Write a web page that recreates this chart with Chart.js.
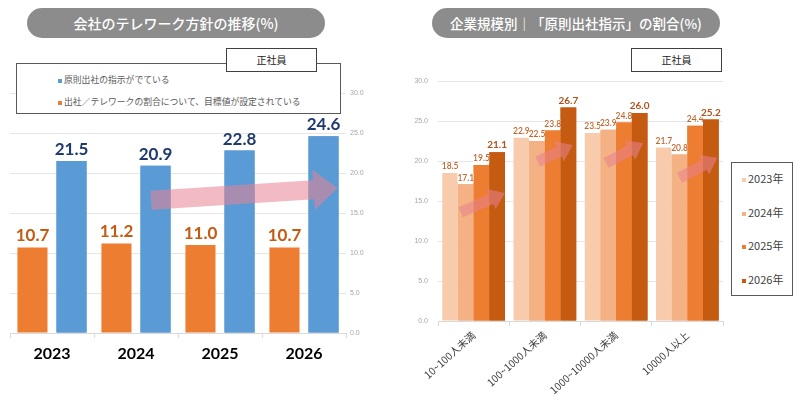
<!DOCTYPE html>
<html>
<head>
<meta charset="utf-8">
<script src="https://cdn.jsdelivr.net/npm/chart.js@4.4.1/dist/chart.umd.min.js"></script>
<style>
  body { margin: 0; width: 800px; height: 404px; position: relative; background: #fff; overflow: hidden;
         font-family: "Noto Sans CJK JP", "Noto Sans", sans-serif; }
  .pill { position: absolute; height: 30px; line-height: 30px; border-radius: 15px; background: #8c8c8c;
          color: #fff; text-align: center; font-size: 14px; font-weight: 500; }
  .tag { position: absolute; width: 89px; height: 22px; line-height: 22px; border: 1px solid #404040;
         background: #fff; text-align: center; font-size: 10px; color: #222; z-index: 3; }
  .box { position: absolute; border: 1px solid #595959; background: #fff; z-index: 2; color: #595959; }
  .item { position: absolute; white-space: nowrap; }
  .item i { display: inline-block; width: 4px; height: 4px; margin-right: 2px; vertical-align: middle; }
  .wrap { position: absolute; top: 0; width: 400px; height: 404px; }
</style>
</head>
<body>
<div class="pill" style="left:27px; top:8px; width:298px;">会社のテレワーク方針の推移(%)</div>
<div class="pill" style="left:432px; top:8px; width:288px; font-size:13.5px;">企業規模別｜「原則出社指示」の割合(%)</div>
<div class="tag" style="left:226px; top:48px;">正社員</div>
<div class="tag" style="left:631px; top:48px;">正社員</div>
<div class="box" id="legend1" style="left:16px; top:63px; width:323px; height:49px; font-size:8.8px;"></div>
<div class="box" id="legend2" style="left:731px; top:162px; width:60px; height:132px; font-size:11px; color:#404040;"></div>
<div class="wrap" style="left:0;"><canvas id="chart" width="400" height="404"></canvas></div>
<div class="wrap" style="left:400px;"><canvas id="chart2" width="400" height="404"></canvas></div>
<script>
// left chart
const years = ["2023", "2024", "2025", "2026"];
const targetSet = [10.7, 11.2, 11.0, 10.7];     // 出社／テレワークの割合について、目標値が設定されている
const officeOrder = [21.5, 20.9, 22.8, 24.6];   // 原則出社の指示がでている

// right chart
const sizes = ["10~100人未満", "100~1000人未満", "1000~10000人未満", "10000人以上"];
const y2023 = [18.5, 22.9, 23.5, 21.7];
const y2024 = [17.1, 22.5, 23.9, 20.8];
const y2025 = [19.5, 23.8, 24.8, 24.4];
const y2026 = [21.1, 26.7, 26.0, 25.2];

const yTicksMin = 0, yTicksMax = 30, yTicksStep = 5;

// pink trend arrows: [category index offset, value] from -> to
const arrows1 = [{ from: [1.18, 16.6], to: [3.4, 18.1], shaft: 19, head: 40, len: 24 }];
const arrows2 = [
  { from: [0 - 0.18, 13.6], to: [0 + 0.44, 16.0], shaft: 11, head: 22, len: 15 },
  { from: [1 - 0.10, 19.9], to: [1 + 0.39, 22.0], shaft: 11, head: 22, len: 15 },
  { from: [2 - 0.14, 19.75], to: [2 + 0.38, 22.25], shaft: 11, head: 22, len: 15 },
  { from: [3 - 0.11, 17.9], to: [3 + 0.42, 20.4], shaft: 11, head: 22, len: 15 }
];

const arrowPlugin = {
  id: "arrows",
  afterDraw(chart, args, opts) {
    const { ctx } = chart;
    const xs = chart.scales.x, ys = chart.scales.y;
    ctx.save();
    ctx.fillStyle = "rgba(232,130,145,0.55)";
    (opts.list || []).forEach(a => {
      const x0 = xs.getPixelForValue(a.from[0]), y0 = ys.getPixelForValue(a.from[1]);
      const x1 = xs.getPixelForValue(a.to[0]), y1 = ys.getPixelForValue(a.to[1]);
      const ang = Math.atan2(y1 - y0, x1 - x0);
      const L = Math.hypot(x1 - x0, y1 - y0);
      ctx.save();
      ctx.translate(x0, y0);
      ctx.rotate(ang);
      ctx.beginPath();
      ctx.moveTo(0, -a.shaft / 2);
      ctx.lineTo(L - a.len, -a.shaft / 2);
      ctx.lineTo(L - a.len, -a.head / 2);
      ctx.lineTo(L, 0);
      ctx.lineTo(L - a.len, a.head / 2);
      ctx.lineTo(L - a.len, a.shaft / 2);
      ctx.lineTo(0, a.shaft / 2);
      ctx.closePath();
      ctx.fill();
      ctx.restore();
    });
    ctx.restore();
  }
};

// value labels; each later series' bars are painted again over the earlier labels
const valueLabels = {
  id: "valueLabels",
  afterDatasetsDraw(chart) {
    const { ctx } = chart;
    chart.data.datasets.forEach((ds, di) => {
      const meta = chart.getDatasetMeta(di);
      if (di > 0) meta.data.forEach(el => el.draw(ctx));
      const st = ds.labelStyle;
      ctx.save();
      ctx.font = st.font;
      ctx.textAlign = "center";
      ctx.textBaseline = "bottom";
      meta.data.forEach((el, i) => {
        const txt = ds.data[i].toFixed(1);
        const y = el.y - st.gap;
        if (st.bg) {
          const w = ctx.measureText(txt).width;
          ctx.fillStyle = st.bg;
          ctx.fillRect(el.x - w / 2, y - st.h, w, st.h);
        }
        ctx.fillStyle = st.color;
        ctx.fillText(txt, el.x, y);
      });
      ctx.restore();
    });
  }
};

Chart.register(arrowPlugin, valueLabels);

const fmt = v => v.toFixed(1);

new Chart(document.getElementById("chart"), {
  type: "bar",
  data: {
    labels: years,
    datasets: [
      { label: "出社／テレワークの割合について、目標値が設定されている", data: targetSet,
        backgroundColor: "#ed7d31", labelStyle: { font: "bold 17px Lato, 'Noto Sans'", color: "#c55a11", gap: 3 } },
      { label: "原則出社の指示がでている", data: officeOrder,
        backgroundColor: "#5b9bd5", labelStyle: { font: "bold 17px Lato, 'Noto Sans'", color: "#1f3a6e", gap: 3 } }
    ]
  },
  options: {
    responsive: false,
    animation: false,
    categoryPercentage: 0.93,
    barPercentage: 0.77,
    layout: { padding: { left: 10, top: 93, right: 30, bottom: 36 } },
    plugins: { legend: { display: false }, tooltip: { enabled: false }, arrows: { list: arrows1 } },
    scales: {
      x: {
        afterFit: s => { s.height = 35; },
        grid: { drawOnChartArea: false, tickLength: 5, color: "#d9d9d9" },
        border: { color: "#d9d9d9" },
        ticks: { color: "#000", padding: 6, font: { family: "Lato, 'Noto Sans'", size: 16, weight: "bold" } }
      },
      y: {
        position: "right",
        min: yTicksMin, max: yTicksMax,
        afterFit: s => { s.width = 24; },
        grid: { color: "#e6e6e6", drawTicks: false },
        border: { display: false },
        ticks: { stepSize: yTicksStep, padding: 4, color: "#a6a6a6", font: { size: 7 }, callback: fmt }
      }
    }
  }
});

const shades = ["#f8cbad", "#f4b183", "#ed7d31", "#c55a11"];
const series2 = [y2023, y2024, y2025, y2026];
const seriesNames = ["2023年", "2024年", "2025年", "2026年"];

new Chart(document.getElementById("chart2"), {
  type: "bar",
  data: {
    labels: sizes,
    datasets: series2.map((d, i) => ({
      label: seriesNames[i], data: d, backgroundColor: shades[i],
      labelStyle: i === 3
        ? { font: "bold 10px Lato, 'Noto Sans'", color: "#b0521c", gap: 2, bg: "#fff", h: 11 }
        : { font: "600 8.5px Lato, 'Noto Sans'", color: "#c0662e", gap: 2, bg: "#fff", h: 9 }
    }))
  },
  options: {
    responsive: false,
    animation: false,
    categoryPercentage: 0.88,
    barPercentage: 1.0,
    layout: { padding: { left: 8, top: 81, right: 77, bottom: 8 } },
    plugins: { legend: { display: false }, tooltip: { enabled: false }, arrows: { list: arrows2 } },
    scales: {
      x: {
        afterFit: s => { s.height = 75; },
        grid: { drawOnChartArea: false, tickLength: 5, color: "#d9d9d9" },
        border: { color: "#d9d9d9" },
        ticks: { color: "#404040", padding: 3, minRotation: 42, maxRotation: 42,
                 font: { family: "'Noto Sans CJK JP'", size: 10.2 } }
      },
      y: {
        min: yTicksMin, max: yTicksMax,
        afterFit: s => { s.width = 30; },
        grid: { color: "#e6e6e6", drawTicks: false },
        border: { display: false },
        ticks: { stepSize: yTicksStep, padding: 10, color: "#a6a6a6", font: { size: 7 }, callback: fmt }
      }
    }
  }
});

// HTML legends built from dataset names/colours
const lg1 = document.getElementById("legend1");
[["原則出社の指示がでている", "#5b9bd5", 9], ["出社／テレワークの割合について、目標値が設定されている", "#ed7d31", 31]]
  .forEach(([t, c, top]) => {
    lg1.insertAdjacentHTML("beforeend", `<div class="item" style="left:41px; top:${top}px;"><i style="background:${c}"></i>${t}</div>`);
  });
const lg2 = document.getElementById("legend2");
seriesNames.forEach((t, i) => {
  lg2.insertAdjacentHTML("beforeend", `<div class="item" style="left:10px; top:${7 + i * 33.5}px;"><i style="background:${shades[i]}"></i>${t}</div>`);
});
</script>
</body>
</html>
